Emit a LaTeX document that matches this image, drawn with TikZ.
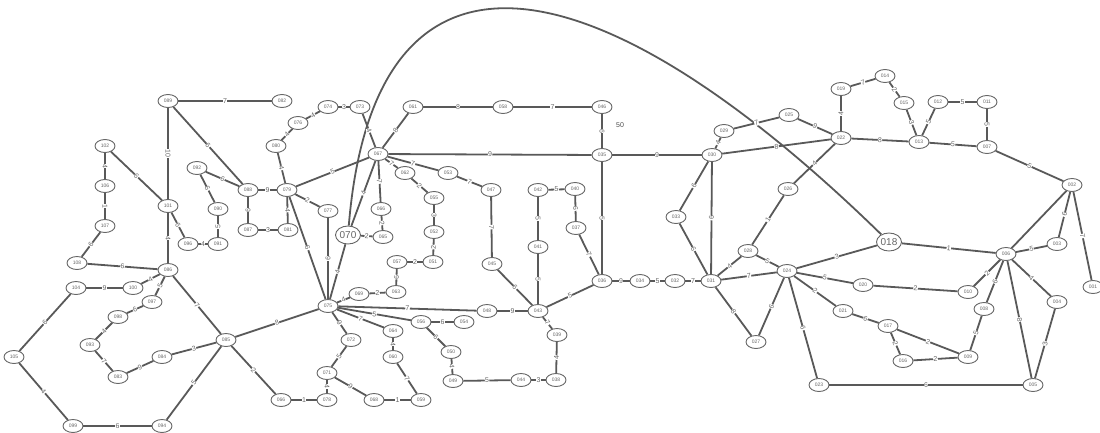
\documentclass[tikz,border=0pt]{standalone}
\usepackage{fontspec}
\setmainfont{Liberation Sans}
\usetikzlibrary{shapes.geometric}
\tikzset{
  nd/.style={ellipse, draw=gray!80!black, line width=0.9pt, fill=white, minimum width=20pt, minimum height=13pt, inner sep=0pt, font=\fontsize{5}{5}\selectfont, text=gray!80!black},
  bignd/.style={nd, minimum width=25pt, minimum height=18pt, font=\fontsize{10}{10}\selectfont},
  ed/.style={draw=gray!70!black, line width=1.8pt},
  lb/.style={sloped, fill=white, inner sep=0.3pt, font=\fontsize{7}{7}\selectfont, text=gray!80!black},
}
\newcommand{\edg}[3]{\draw[ed] (#1) -- node[lb]{#3} (#2);}
\begin{document}
\begin{tikzpicture}[x=1pt,y=-1pt]
\useasboundingbox (0,0) rectangle (1100,432);
% nodes
\foreach \n/\x/\y in {089/168/101, 082/282/101, 102/105/146, 106/105/186, 107/105/226, 108/77/263, 101/168/206, 096/188/244, 091/218/244, 090/218/209, 092/197/168, 088/248/190, 079/287/190, 087/248/230, 081/288/230, 080/276/146, 076/298/123, 074/328/107, 073/360/107, 077/328/211, 065/383/237, 067/378/154, 061/413/107, 058/503/107, 046/602/107, 062/405/173, 053/448/173, 055/434/198, 052/434/232, 051/433/262, 057/397/262, 047/491/190, 045/492/264, 042/538/190, 040/575/189, 041/538/247, 037/576/228, 035/602/155, 030/712/155, 029/724/131, 025/789/115, 022/841/138, 019/841/89, 014/885/76, 015/904/103, 013/919/142, 012/938/102, 011/987/102, 007/987/147, 002/1072/185, 003/1057/244, 001/1093/287, 006/1006/254, 026/788/189, 028/748/251, 024/787/271, 031/711/281, 032/675/281, 034/640/281, 036/602/281, 033/676/217, 027/756/342, 023/819/385, 021/843/311, 017/888/326, 016/903/361, 009/968/357, 008/984/309, 010/968/292, 020/863/285, 004/1057/302, 005/1033/385, 043/538/311, 048/487/311, 039/557/335, 038/556/380, 044/521/380, 049/453/381, 050/451/352, 056/421/322, 054/464/322, 064/393/331, 060/393/357, 059/421/400, 068/374/400, 072/351/340, 071/327/373, 078/327/400, 066/281/400, 075/328/306, 069/359/294, 063/396/292, 085/226/340, 086/168/270, 100/133/288, 104/76/288, 097/152/302, 098/118/317, 093/90/345, 083/118/377, 084/162/357, 105/14/357, 099/73/426, 094/162/426}
  {\node[nd] (n\n) at (\x,\y) {\n};}
\node[nd] (n066a) at (381,209) {066};
\node[bignd] (n070) at (348,235) {070};
\node[bignd] (n018) at (889,242) {018};
% long curve
\draw[ed] (n070) .. controls (375,-90) and (600,-40) .. (n018);
% edges
\edg{n089}{n082}{7}
\edg{n089}{n101}{10}
\edg{n089}{n088}{6}
\edg{n102}{n106}{4}
\edg{n102}{n101}{6}
\edg{n106}{n107}{1}
\edg{n107}{n108}{6}
\edg{n101}{n096}{6}
\edg{n101}{n086}{4}
\edg{n096}{n091}{4}
\edg{n091}{n090}{5}
\edg{n090}{n092}{6}
\edg{n092}{n088}{6}
\edg{n088}{n079}{9}
\edg{n088}{n087}{9}
\edg{n087}{n081}{3}
\edg{n081}{n079}{4}
\edg{n079}{n080}{4}
\edg{n080}{n076}{4}
\edg{n076}{n074}{4}
\edg{n074}{n073}{3}
\edg{n073}{n067}{4}
\edg{n079}{n067}{5}
\edg{n079}{n077}{2}
\edg{n079}{n075}{6}
\edg{n077}{n075}{9}
\edg{n067}{n070}{4}
\edg{n070}{n075}{4}
\edg{n070}{n065}{2}
\edg{n067}{n066a}{7}
\edg{n066a}{n065}{2}
\edg{n067}{n061}{8}
\edg{n061}{n058}{8}
\edg{n058}{n046}{7}
\edg{n046}{n035}{6}
\edg{n067}{n035}{9}
\edg{n067}{n062}{7}
\edg{n067}{n053}{7}
\edg{n053}{n047}{7}
\edg{n062}{n055}{2}
\edg{n055}{n052}{3}
\edg{n052}{n051}{2}
\edg{n051}{n057}{2}
\edg{n057}{n063}{6}
\edg{n063}{n069}{2}
\edg{n069}{n075}{4}
\edg{n047}{n045}{7}
\edg{n045}{n043}{6}
\edg{n042}{n040}{5}
\edg{n042}{n041}{5}
\edg{n041}{n043}{5}
\edg{n040}{n037}{6}
\edg{n037}{n036}{7}
\edg{n035}{n036}{5}
\edg{n035}{n030}{9}
\edg{n043}{n036}{5}
\edg{n036}{n034}{9}
\edg{n034}{n032}{5}
\edg{n032}{n031}{7}
\edg{n075}{n048}{7}
\edg{n048}{n043}{9}
\edg{n043}{n039}{7}
\edg{n039}{n038}{4}
\edg{n038}{n044}{3}
\edg{n044}{n049}{5}
\edg{n049}{n050}{4}
\edg{n050}{n056}{6}
\edg{n056}{n054}{6}
\edg{n075}{n056}{5}
\edg{n075}{n064}{7}
\edg{n075}{n072}{9}
\edg{n064}{n060}{4}
\edg{n060}{n059}{7}
\edg{n059}{n068}{1}
\edg{n068}{n071}{9}
\edg{n071}{n072}{5}
\edg{n071}{n078}{4}
\edg{n078}{n066}{1}
\edg{n066}{n085}{2}
\edg{n085}{n075}{8}
\edg{n085}{n086}{7}
\edg{n085}{n084}{3}
\edg{n085}{n094}{5}
\edg{n084}{n083}{9}
\edg{n083}{n093}{7}
\edg{n093}{n098}{4}
\edg{n098}{n097}{6}
\edg{n097}{n086}{5}
\edg{n100}{n086}{4}
\edg{n108}{n086}{6}
\edg{n100}{n104}{9}
\edg{n104}{n105}{6}
\edg{n105}{n099}{4}
\edg{n099}{n094}{6}
\edg{n030}{n029}{4}
\edg{n030}{n033}{6}
\edg{n033}{n031}{6}
\edg{n030}{n031}{6}
\edg{n030}{n022}{8}
\edg{n029}{n025}{7}
\edg{n025}{n022}{9}
\edg{n022}{n019}{4}
\edg{n019}{n014}{7}
\edg{n014}{n015}{2}
\edg{n015}{n013}{3}
\edg{n013}{n012}{5}
\edg{n012}{n011}{5}
\edg{n011}{n007}{5}
\edg{n022}{n013}{8}
\edg{n013}{n007}{5}
\edg{n007}{n002}{5}
\edg{n002}{n003}{6}
\edg{n002}{n001}{7}
\draw[ed] (n002) -- (n006);
\edg{n006}{n003}{5}
\edg{n018}{n006}{1}
\edg{n024}{n018}{3}
\edg{n022}{n026}{4}
\edg{n026}{n028}{1}
\edg{n028}{n031}{4}
\edg{n028}{n024}{5}
\edg{n031}{n024}{7}
\edg{n031}{n027}{8}
\edg{n024}{n027}{6}
\edg{n024}{n023}{6}
\edg{n023}{n005}{6}
\edg{n024}{n020}{5}
\edg{n020}{n010}{2}
\edg{n024}{n021}{2}
\edg{n021}{n017}{6}
\edg{n017}{n016}{2}
\edg{n017}{n009}{2}
\edg{n016}{n009}{2}
\edg{n009}{n008}{5}
\edg{n008}{n006}{6}
\edg{n010}{n006}{2}
\edg{n006}{n005}{8}
\edg{n006}{n004}{4}
\edg{n004}{n005}{3}
\node[font=\fontsize{7}{7}\selectfont, text=gray!60!black] (t50) at (620,125) {50};
\end{tikzpicture}
\end{document}
